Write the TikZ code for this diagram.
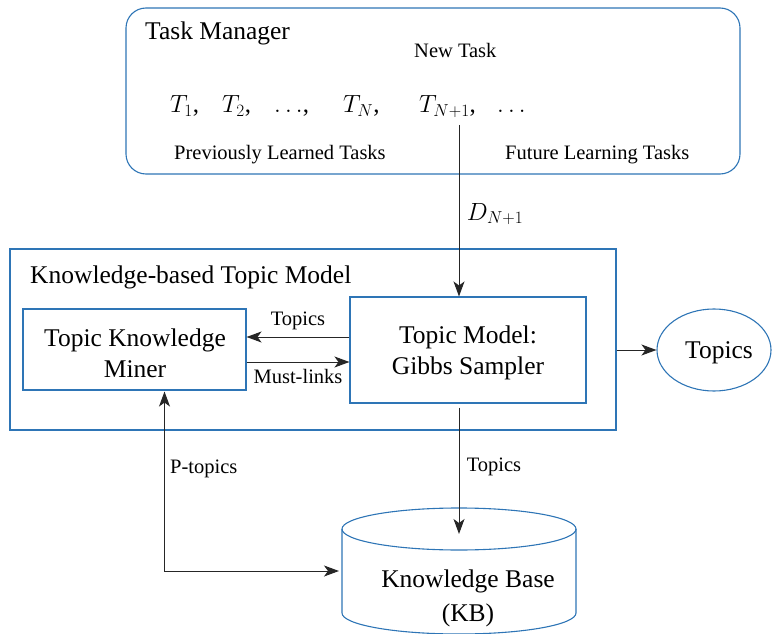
\documentclass[tikz,border=0pt]{standalone}
\usepackage{fontspec}
\setmainfont{Liberation Serif}
\usetikzlibrary{arrows.meta,shapes.geometric}
\definecolor{boxblue}{RGB}{46,117,182}
\tikzset{
  blk/.style={draw=boxblue, line width=1.1pt, inner sep=0pt},
  bigtxt/.style={font=\fontsize{25.5}{31}\selectfont},
  smalltxt/.style={font=\fontsize{20.5}{24}\selectfont},
  tip/.tip={Stealth[length=15pt,width=11pt,inset=4pt]},
  conn/.style={draw=black!85, line width=1pt, -tip},
  lbl/.style={smalltxt, anchor=base west, inner sep=0pt},
  mathlbl/.style={font=\fontsize{25}{30}\selectfont, anchor=base west, inner sep=0pt},
}
\begin{document}
\begin{tikzpicture}[x=1pt,y=-1pt]
\useasboundingbox (0,0) rectangle (772,634);

% Task manager panel
\node[blk, rounded corners=20pt, minimum width=614pt, minimum height=166pt] (tm) at (433,91) {};
\node[bigtxt, anchor=base west, inner sep=0pt] (tmtitle) at (145,40) {Task Manager};
\node[lbl] (newtask) at (414,58) {New Task};
\node[mathlbl] (t1) at (170,113) {$T_1$,};
\node[mathlbl] (t2) at (222,113) {$T_2$,};
\node[mathlbl] (dots1) at (274,113) {$\ldots$,};
\node[mathlbl] (tn) at (343,113) {$T_N$,};
\node[mathlbl] (tn1) at (419,113) {$T_{N+1}$,};
\node[mathlbl] (dots2) at (497,113) {$\ldots$};
\node[lbl] (prev) at (174,160) {Previously Learned Tasks};
\node[lbl] (future) at (505,160) {Future Learning Tasks};
\coordinate (tnstart) at (459,125);

% Knowledge-based topic model
\node[blk, minimum width=606pt, minimum height=181pt] (ktm) at (313,339.5) {};
\node[bigtxt, anchor=base west, inner sep=0pt] (ktmtitle) at (30,283) {Knowledge-based Topic Model};
\node[blk, minimum width=223pt, minimum height=81pt] (miner) at (134.5,349.5) {};
\node[bigtxt, align=center, inner sep=0pt] (minertxt) at (135,353) {Topic Knowledge\\Miner};
\node[blk, minimum width=236pt, minimum height=106pt] (gibbs) at (468,350) {};
\node[bigtxt, align=center, inner sep=0pt] (gibbstxt) at (468,353) {Topic Model:\\Gibbs Sampler};

% Output topics
\node[blk, ellipse, minimum width=114pt, minimum height=82pt] (topics) at (714,350) {};
\node[bigtxt, inner sep=0pt] (topicstxt) at (719,353) {Topics};

% Knowledge base cylinder
\coordinate (kb) at (459,534);
\draw[boxblue, line width=1.1pt] (459,529) ellipse [x radius=117, y radius=21];
\draw[boxblue, line width=1.1pt] (342,529) -- (342,613) arc[start angle=180, end angle=0, x radius=117, y radius=21] -- (576,529);
\node[bigtxt, align=center, font=\fontsize{25.5}{34}\selectfont] (kbtxt) at (468,598) {Knowledge Base\\(KB)};
\coordinate (kbleft) at (339,571);

% Connectors
\draw[conn] (tnstart) -- (tnstart |- gibbs.north) node[pos=0.52, right=4pt, font=\fontsize{25}{30}\selectfont] (dlbl) {$D_{N+1}$};
\draw[conn] ([yshift=13pt]gibbs.west) -- ([yshift=12.5pt]miner.east) node[midway, above=3pt, smalltxt] (tlbl) {Topics};
\draw[conn] ([yshift=-12.5pt]miner.east) -- ([yshift=-12pt]gibbs.west) node[midway, below=3pt, smalltxt] (mlbl) {Must-links};
\draw[conn] (ktm.east |- topics.west) -- (topics.west);
\draw[conn] ([yshift=-4pt]tnstart |- gibbs.south) -- (kb) node[pos=0.47, right=4pt, smalltxt] (klbl) {Topics};
\draw[conn, tip-tip] ([xshift=30pt,yshift=-1pt]miner.south) |- (kbleft);
\node[lbl] (plbl) at (170,473) {P-topics};
\end{tikzpicture}
\end{document}
